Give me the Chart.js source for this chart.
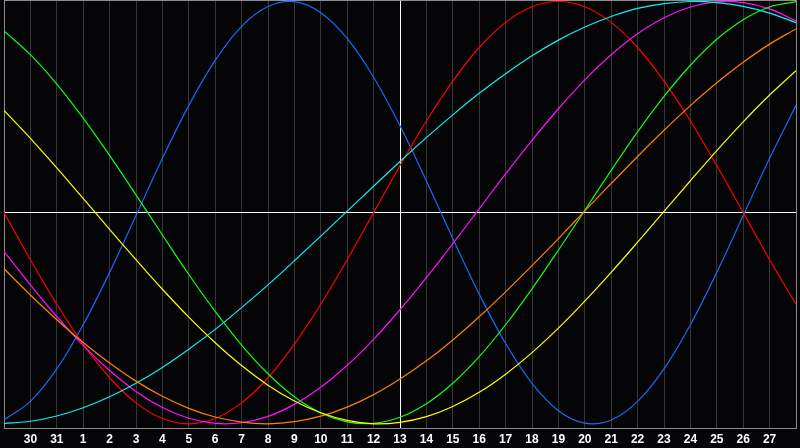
<!DOCTYPE html>
<html>
<head>
<meta charset="utf-8">
<script src="https://cdn.jsdelivr.net/npm/chart.js@4/dist/chart.umd.min.js"></script>
<style>
  html, body { margin: 0; padding: 0; background: #050508; overflow: hidden; }
  #wrap { width: 800px; height: 448px; position: relative; }
</style>
</head>
<body>
<div id="wrap"><canvas id="bioChart"></canvas></div>
<script>
// one slot per day, first and last slots are unlabelled edge days
const dayLabels = ['', '30', '31', '1', '2', '3', '4', '5', '6', '7', '8', '9', '10', '11', '12',
  '13', '14', '15', '16', '17', '18', '19', '20', '21', '22', '23', '24', '25', '26', '27', '']
const todayIndex = 15

const physical = [-0.982, -0.894, -0.740, -0.531, -0.283, -0.014, 0.257, 0.508, 0.721, 0.882, 0.976, 0.999, 0.947, 0.825,
  0.641, 0.411, 0.150, -0.123, -0.386, -0.620, -0.809, -0.938, -0.997, -0.982, -0.894, -0.740, -0.531, -0.283, -0.014, 0.257, 0.508]
const emotional = [0.000, -0.223, -0.434, -0.623, -0.782, -0.901, -0.975, -1.000, -0.975, -0.901, -0.782, -0.623, -0.434, -0.223,
  0.000, 0.223, 0.434, 0.623, 0.782, 0.901, 0.975, 1.000, 0.975, 0.901, 0.782, 0.623, 0.434, 0.223, 0.000, -0.223, -0.434]
const intellectual = [0.860, 0.748, 0.609, 0.448, 0.271, 0.084, -0.106, -0.293, -0.468, -0.627, -0.763, -0.872, -0.949, -0.991,
  -0.998, -0.969, -0.905, -0.808, -0.682, -0.531, -0.361, -0.178, 0.011, 0.200, 0.382, 0.550, 0.698, 0.821, 0.914, 0.974, 0.999]
const intuitive = [-0.183, -0.342, -0.492, -0.629, -0.748, -0.847, -0.923, -0.974, -0.998, -0.995, -0.965, -0.908, -0.827, -0.723,
  -0.600, -0.460, -0.308, -0.147, 0.018, 0.183, 0.342, 0.492, 0.629, 0.748, 0.847, 0.923, 0.974, 0.998, 0.995, 0.965, 0.908]
const aesthetic = [0.484, 0.352, 0.212, 0.067, -0.079, -0.223, -0.363, -0.495, -0.616, -0.724, -0.817, -0.892, -0.948, -0.984,
  -1.000, -0.993, -0.966, -0.918, -0.851, -0.765, -0.663, -0.547, -0.419, -0.283, -0.140, 0.006, 0.151, 0.294, 0.430, 0.557, 0.672]
const awareness = [-0.266, -0.390, -0.507, -0.615, -0.712, -0.798, -0.870, -0.927, -0.968, -0.992, -1.000, -0.990, -0.964, -0.921,
  -0.862, -0.788, -0.702, -0.603, -0.493, -0.375, -0.251, -0.123, 0.008, 0.138, 0.266, 0.390, 0.507, 0.615, 0.712, 0.798, 0.870]
const spiritual = [-0.999, -0.988, -0.963, -0.924, -0.872, -0.808, -0.733, -0.647, -0.553, -0.450, -0.342, -0.228, -0.111, 0.007,
  0.125, 0.242, 0.355, 0.463, 0.565, 0.658, 0.743, 0.817, 0.879, 0.929, 0.967, 0.990, 1.000, 0.995, 0.977, 0.945, 0.900]

const borderGray = '#8c8c8c'
const gridGray = '#363638'

function series(name, values, color) {
  return {
    label: name,
    data: values.map((v, i) => ({x: i, y: v})),
    borderColor: color,
    borderWidth: 1.2,
    pointRadius: 0,
    tension: 0.33,
    fill: false
  }
}

const ctx = document.getElementById('bioChart').getContext('2d')
const bioChart = new Chart(ctx, {
  type: 'line',
  data: {
    datasets: [
      series('Aesthetic', aesthetic, '#ffff00'),
      series('Awareness', awareness, '#ff8000'),
      series('Intellectual', intellectual, '#10ff10'),
      series('Spiritual', spiritual, '#10f0f0'),
      series('Intuitive', intuitive, '#ff10ff'),
      series('Emotional', emotional, '#ff0000'),
      series('Physical', physical, '#1a6af5')
    ]
  },
  options: {
    responsive: true,
    maintainAspectRatio: false,
    animation: false,
    layout: {padding: 0},
    plugins: {legend: {display: false}, tooltip: {enabled: false}},
    scales: {
      x: {
        type: 'linear',
        min: 0,
        max: dayLabels.length - 1,
        afterFit: (scale) => { scale.height = 20 },
        border: {color: borderGray, width: 1},
        grid: {
          drawTicks: false,
          color: (c) => (c.tick && c.tick.value === todayIndex ? '#ffffff' : gridGray)
        },
        ticks: {
          stepSize: 1,
          padding: 4,
          color: '#ffffff',
          maxRotation: 0,
          autoSkip: false,
          font: {family: 'Liberation Sans', weight: 'bold', size: 12},
          callback: (value) => dayLabels[value]
        }
      },
      xTop: {
        type: 'linear',
        position: 'top',
        min: 0,
        max: 1,
        afterFit: (scale) => { scale.height = 0 },
        border: {color: borderGray, width: 1},
        grid: {display: false},
        ticks: {display: false}
      },
      y: {
        min: -1.02,
        max: 1.007,
        afterFit: (scale) => { scale.width = 0 },
        afterBuildTicks: (scale) => { scale.ticks = [{value: 0}] },
        border: {color: borderGray, width: 1},
        grid: {drawTicks: false, color: '#ffffff'},
        ticks: {display: false}
      },
      yRight: {
        type: 'linear',
        position: 'right',
        min: 0,
        max: 1,
        afterFit: (scale) => { scale.width = 0 },
        border: {color: borderGray, width: 1},
        grid: {display: false},
        ticks: {display: false}
      }
    }
  }
})
</script>
</body>
</html>
